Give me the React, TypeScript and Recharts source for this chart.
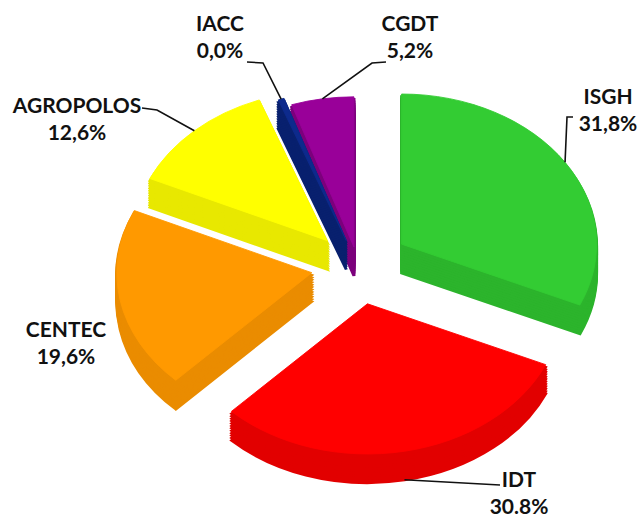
import React from "react";
import { PieChart, Pie, Cell } from "recharts";

// slices, clockwise from 12 o'clock
const NAMES = ["ISGH", "IDT", "CENTEC", "AGROPOLOS", "IACC", "CGDT"];
const SHARES = [31.8, 30.8, 19.6, 12.6, 0.5, 5.2]; // IACC shows as a thin sliver
const PCT_LABELS = ["31,8%", "30.8%", "19,6%", "12,6%", "0,0%", "5,2%"];

const TOP = ["#33cc33", "#ff0000", "#ff9900", "#ffff00", "#0d2a8c", "#990099"];
const SIDE = ["#2cb42c", "#e20000", "#ea8c00", "#e8e800", "#08206e", "#7c007c"];
const EXPLODE = [52, 50, 47, 45, 35, 25];

const W = 644;
const H = 520;
const K = 0.77; // vertical squash for the tilted look
const CX = 358;
const CY = 266;
const R = 195;
const DEPTH = 29;
const STEPS = 12;

// text position and leader elbows, screen px
const LABEL_POS: { x: number; y: number; elbow: number[][] }[] = [
  { x: 608, y: 104, elbow: [[567, 117], [573, 117]] },
  { x: 519, y: 487, elbow: [[500, 485]] },
  { x: 66, y: 337, elbow: [] },
  { x: 77, y: 113, elbow: [[157, 110], [142, 108]] },
  { x: 220, y: 31, elbow: [[263, 63], [247, 62]] },
  { x: 410, y: 31, elbow: [[372, 63], [386, 62]] },
];

const data = NAMES.map((name, i) => ({ name, value: SHARES[i] }));
const total = SHARES.reduce((a, b) => a + b, 0);
const midAngles = SHARES.map((v, i) => {
  const before = SHARES.slice(0, i).reduce((a, b) => a + b, 0);
  return 90 - (360 * (before + v / 2)) / total;
});
const RAD = Math.PI / 180;

function renderLabel(p: any, i: number) {
  const pos = LABEL_POS[i];
  const a = p.midAngle * RAD;
  const ax = p.cx + p.outerRadius * Math.cos(a);
  let ay = (p.cy - p.outerRadius * Math.sin(a)) * K;
  ay += DEPTH * Math.max(0, -Math.sin(a));
  const pts = [[ax, ay], ...pos.elbow];
  const font = { fontFamily: "Lato, 'Open Sans', sans-serif", fontWeight: 700, fontSize: 21, fill: "#111" };
  return (
    <g transform={`scale(1, ${1 / K})`}>
      {pos.elbow.length > 0 && (
        <polyline
          points={pts.map((q) => q.join(",")).join(" ")}
          fill="none"
          stroke="#111"
          strokeWidth={1.6}
        />
      )}
      <text x={pos.x} y={pos.y} textAnchor="middle" {...font}>
        {NAMES[i]}
      </text>
      <text x={pos.x} y={pos.y + 27} textAnchor="middle" {...font}>
        {PCT_LABELS[i]}
      </text>
    </g>
  );
}

function slicePie(i: number, layer: number) {
  const a = midAngles[i] * RAD;
  const cx = CX + EXPLODE[i] * Math.cos(a);
  const cy = CY / K - EXPLODE[i] * Math.sin(a) + ((DEPTH / K) * layer) / STEPS;
  const isTop = layer === 0;
  const color = isTop ? TOP[i] : SIDE[i];
  return (
    <Pie
      key={`s${i}-${layer}`}
      data={data}
      dataKey="value"
      nameKey="name"
      cx={cx}
      cy={cy}
      outerRadius={R}
      startAngle={90}
      endAngle={-270}
      isAnimationActive={false}
      labelLine={false}
      label={isTop ? (p: any) => (p.index === i ? renderLabel(p, i) : null) : false}
    >
      {data.map((_, j) => (
        <Cell
          key={j}
          fill={j === i ? color : "none"}
          stroke={j === i ? color : "none"}
          strokeWidth={isTop ? 1 : 3}
        />
      ))}
    </Pie>
  );
}

export default function App() {
  const pies: React.ReactNode[] = [];
  for (let layer = STEPS; layer >= 1; layer--) {
    for (let i = 0; i < NAMES.length; i++) pies.push(slicePie(i, layer));
  }
  for (let i = 0; i < NAMES.length; i++) pies.push(slicePie(i, 0));

  return (
    <div
      style={{
        position: "absolute",
        left: 0,
        top: 0,
        width: W,
        height: H,
        overflow: "hidden",
        background: "#fff",
      }}
    >
      <div style={{ width: W, height: H / K, transform: `scaleY(${K})`, transformOrigin: "0 0" }}>
        <PieChart width={W} height={Math.ceil(H / K)} margin={{ top: 0, right: 0, bottom: 0, left: 0 }}>
          {pies}
        </PieChart>
      </div>
    </div>
  );
}
